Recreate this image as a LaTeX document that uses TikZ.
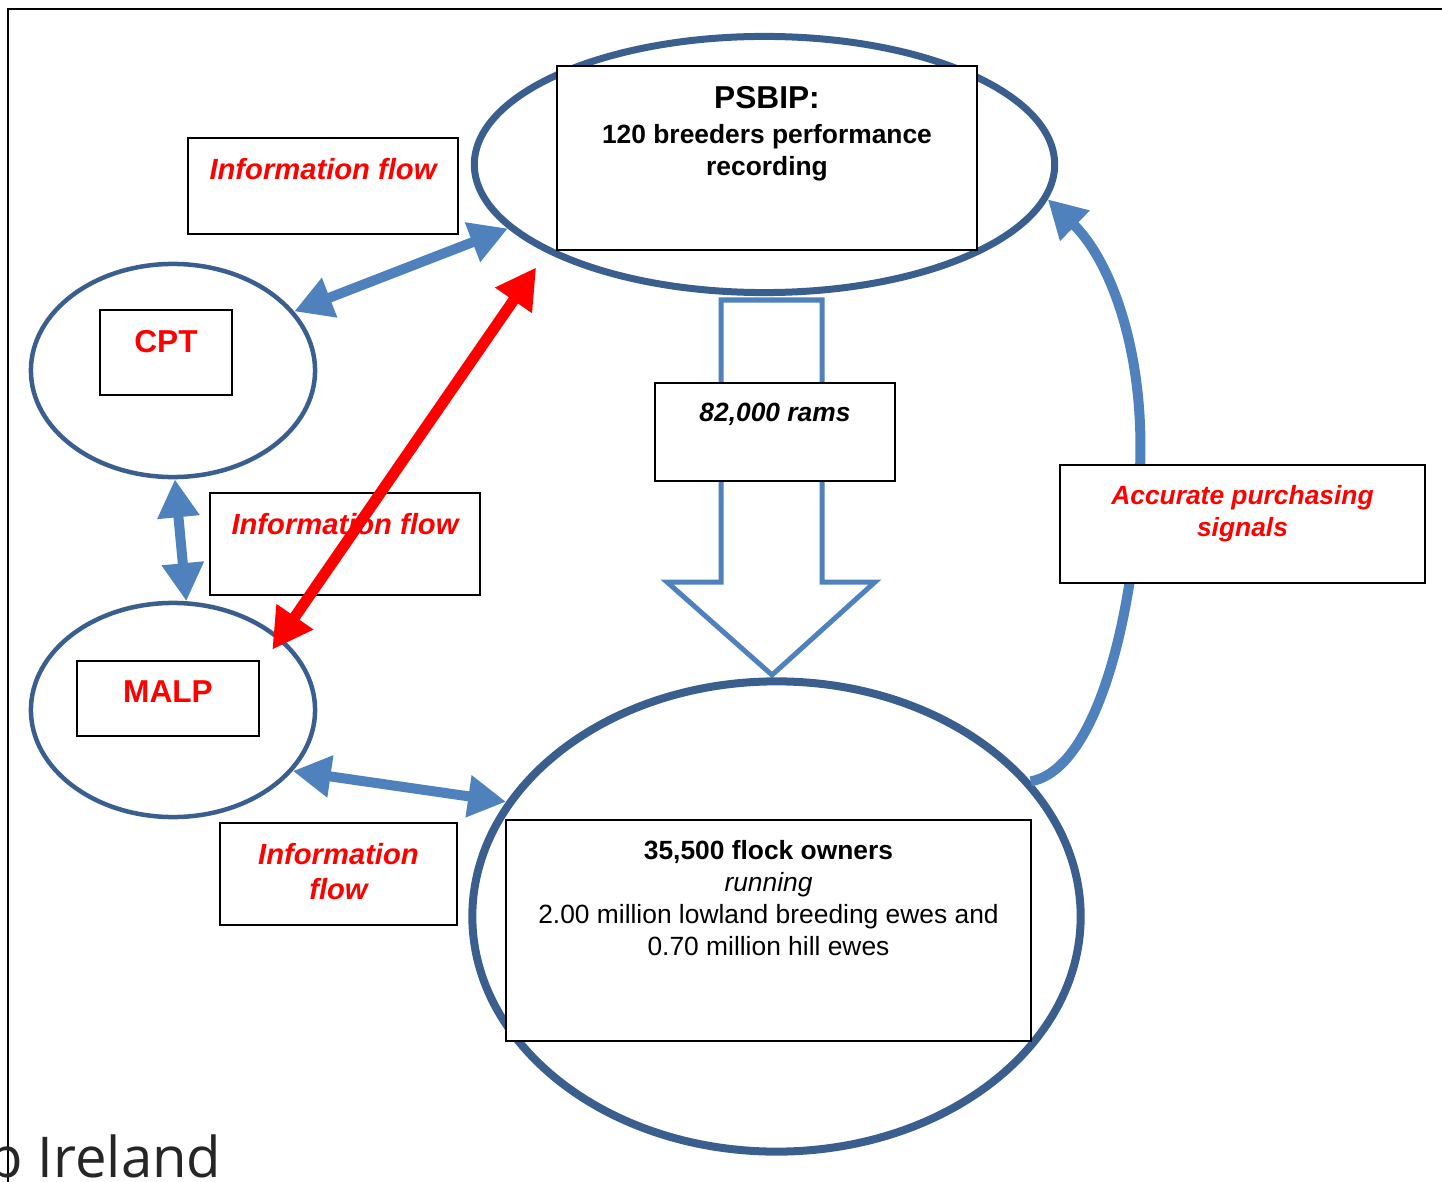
\documentclass[tikz,border=0pt]{standalone}
\usepackage{fontspec}
\setmainfont{Liberation Sans}
\newfontfamily\irelandfont{Open Sans}
\usetikzlibrary{arrows.meta,shapes.geometric}
\definecolor{ringblue}{HTML}{3A5F8E}
\definecolor{flowblue}{HTML}{4F81BD}
% text hangs from the top of each box
\newcommand{\boxtxt}[3]{\parbox[t][#2][t]{#1}{\centering\vspace*{0.2cm}#3\par}}

\begin{document}
\begin{tikzpicture}[x=0.01cm,y=-0.01cm,
    >={Triangle[length=0.38cm,width=0.40cm]},
    ring/.style={ellipse,draw=ringblue,inner sep=0pt},
    box/.style={draw,fill=white,line width=0.6pt,inner sep=0pt},
    info/.style={box,text=red,font=\fontsize{8.3}{10}\selectfont\bfseries\itshape},
    flow/.style={flowblue,line width=0.1cm}]
  \useasboundingbox (0,0) rectangle (1442,1182);
  \clip (0,0) rectangle (1442,1182);
  \draw[line width=0.6pt] (8,1182) -- (8,9) -- (1442,9);
  % big hollow arrow down to the flocks
  \draw[flowblue,line width=0.05cm,fill=white] (721,300) -- (721,582) -- (667,582) -- (772,675)
    -- (875,582) -- (822,582) -- (822,300) -- cycle;
  % the four rings
  \node[ring,line width=0.07cm,minimum width=5.80cm,minimum height=2.56cm] (psbip) at (764.5,164.5) {};
  \node[ring,line width=0.045cm,minimum width=2.84cm,minimum height=2.13cm] (cpt) at (173,370.5) {};
  \node[ring,line width=0.045cm,minimum width=2.84cm,minimum height=2.14cm] (malp) at (173,710) {};
  \node[ring,line width=0.08cm,minimum width=6.08cm,minimum height=4.70cm] (flock) at (776.5,916.5) {};
  \draw[flow,->] (flock.28) .. controls (1095,770) and (1135,620) .. (1140,470)
    .. controls (1145,350) and (1110,260) .. (psbip.-7.5);
  % boxes
  \node[box,font=\fontsize{7.5}{9.1}\selectfont\bfseries] (psbipbox) at (767,158)
    {\boxtxt{4.20cm}{1.84cm}{{\fontsize{9}{10}\selectfont PSBIP:\par}\vspace{0.9pt}120 breeders performance\\recording}};
  \node[info] (infotop) at (323,186) {\boxtxt{2.70cm}{0.96cm}{Information flow}};
  \node[box,text=red,font=\fontsize{9}{10}\selectfont\bfseries] (cptbox) at (166,352.5) {\boxtxt{1.32cm}{0.85cm}{CPT}};
  \node[info] (infomid) at (345,544) {\boxtxt{2.70cm}{1.02cm}{Information flow}};
  \node[box,text=red,font=\fontsize{9}{10}\selectfont\bfseries] (malpbox) at (168,698.5) {\boxtxt{1.82cm}{0.75cm}{MALP}};
  \node[info] (infobot) at (338.5,874) {\boxtxt{2.37cm}{1.02cm}{Information\\flow}};
  \node[box,font=\fontsize{7.5}{9.1}\selectfont\bfseries\itshape] (ramsbox) at (775,432) {\boxtxt{2.40cm}{0.98cm}{82,000 rams}};
  \node[box,text=red,font=\fontsize{7.5}{9.1}\selectfont\bfseries\itshape] (signalsbox) at (1242.5,524)
    {\boxtxt{3.65cm}{1.18cm}{Accurate purchasing\\signals}};
  \node[box,font=\fontsize{7.5}{9.1}\selectfont] (flockbox) at (768.5,930.5)
    {\boxtxt{5.25cm}{2.21cm}{\textbf{35,500 flock owners}\\\textit{running}\\2.00 million lowland breeding ewes and\\0.70 million hill ewes}};
  % information flows
  \draw[flow,<->] (cpt.26) -- (psbip.194);
  \draw[flow,<->] (cpt.-89) -- (malp.83);
  \draw[flow,<->] (malp.-27) -- (flock.157);
  \draw[red,line width=0.11cm,{Triangle[length=0.40cm,width=0.42cm]}-{Triangle[length=0.40cm,width=0.42cm]},
    shorten <=-0.15cm,shorten >=0.18cm] (malp.34) -- (psbip.202);
  \node[anchor=base west,inner sep=0pt,text=black!85,font=\irelandfont\fontsize{16}{18}\selectfont] (place) at (-12,1177) {p Ireland};
\end{tikzpicture}
\end{document}
